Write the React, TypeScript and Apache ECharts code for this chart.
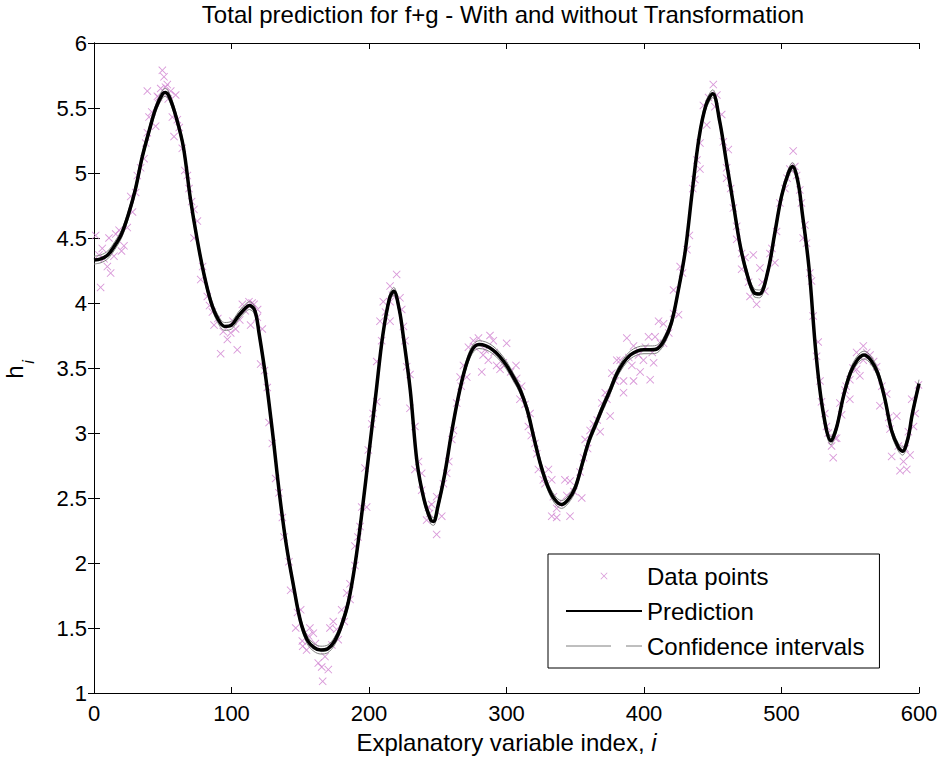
import React, { useEffect, useRef } from "react";
import * as echarts from "echarts";

const titleText = "Total prediction for f+g - With and without Transformation";
const xAxisTicks = [0, 100, 200, 300, 400, 500, 600];
const yAxisTicks = [1, 1.5, 2, 2.5, 3, 3.5, 4, 4.5, 5, 5.5, 6];

const predX = [
  0, 5, 10, 15, 20, 25, 30, 35, 40, 45,
  50, 52, 55, 60, 65, 70, 75, 80, 85, 90,
  95, 100, 105, 110, 113, 117, 120, 125, 130, 135,
  140, 145, 150, 155, 160, 165, 170, 175, 180, 185,
  190, 195, 200, 205, 210, 215, 218, 222, 225, 230,
  235, 240, 245, 247, 250, 255, 260, 265, 270, 275,
  280, 285, 290, 295, 300, 305, 310, 315, 320, 325,
  330, 335, 340, 345, 350, 355, 360, 365, 370, 375,
  380, 385, 390, 395, 400, 405, 410, 415, 420, 425,
  430, 435, 440, 445, 450, 455, 460, 465, 470, 475,
  480, 484, 490, 495, 500, 505, 508, 512, 515, 520,
  525, 530, 536, 540, 545, 550, 555, 560, 565, 570,
  575, 580, 585, 588, 592, 595, 600,
];

const predY = [
  4.33, 4.34, 4.37, 4.44, 4.53, 4.68, 4.87, 5.12, 5.32, 5.5,
  5.61, 5.62, 5.58, 5.42, 5.2, 4.81, 4.49, 4.22, 4.01, 3.88,
  3.82, 3.83, 3.9, 3.96, 3.98, 3.94, 3.77, 3.42, 2.99, 2.52,
  2.13, 1.83, 1.56, 1.41, 1.35, 1.33, 1.34, 1.4, 1.52, 1.7,
  2.0, 2.4, 2.85, 3.3, 3.75, 4.04, 4.09, 3.95, 3.74, 3.33,
  2.77, 2.49, 2.33, 2.32, 2.43, 2.68, 3.0, 3.28, 3.5, 3.64,
  3.68, 3.67, 3.64, 3.59, 3.52, 3.43, 3.33, 3.18, 2.96, 2.75,
  2.59, 2.49, 2.45, 2.49, 2.58, 2.76, 2.94, 3.07, 3.2, 3.32,
  3.45, 3.54, 3.6, 3.63, 3.64, 3.64, 3.65, 3.72, 3.85, 4.1,
  4.4, 4.85, 5.27, 5.52, 5.61, 5.4, 5.08, 4.76, 4.44, 4.22,
  4.08, 4.07, 4.24, 4.53, 4.82, 5.0, 5.05, 4.93, 4.7, 4.27,
  3.62, 3.18, 2.94, 3.04, 3.28, 3.46, 3.56, 3.6, 3.56, 3.46,
  3.27, 3.02, 2.89, 2.86, 2.96, 3.14, 3.38,
];

const ciUpper = [
  4.36, 4.37, 4.4, 4.47, 4.56, 4.71, 4.9, 5.15, 5.35, 5.53,
  5.64, 5.65, 5.61, 5.45, 5.23, 4.84, 4.52, 4.25, 4.04, 3.91,
  3.85, 3.86, 3.93, 3.99, 4.01, 3.97, 3.8, 3.45, 3.02, 2.55,
  2.16, 1.86, 1.59, 1.44, 1.38, 1.36, 1.37, 1.43, 1.55, 1.73,
  2.03, 2.43, 2.88, 3.33, 3.78, 4.07, 4.12, 3.98, 3.77, 3.36,
  2.8, 2.52, 2.36, 2.35, 2.46, 2.71, 3.03, 3.31, 3.53, 3.67,
  3.71, 3.7, 3.67, 3.62, 3.55, 3.46, 3.36, 3.21, 2.99, 2.78,
  2.62, 2.52, 2.48, 2.52, 2.61, 2.79, 2.97, 3.1, 3.23, 3.35,
  3.48, 3.57, 3.63, 3.66, 3.67, 3.67, 3.68, 3.75, 3.88, 4.13,
  4.43, 4.88, 5.3, 5.55, 5.64, 5.43, 5.11, 4.79, 4.47, 4.25,
  4.11, 4.1, 4.27, 4.56, 4.85, 5.03, 5.08, 4.96, 4.73, 4.3,
  3.65, 3.21, 2.97, 3.07, 3.31, 3.49, 3.59, 3.63, 3.59, 3.49,
  3.3, 3.05, 2.92, 2.89, 2.99, 3.17, 3.41,
];

const ciLower = [
  4.3, 4.31, 4.34, 4.41, 4.5, 4.65, 4.84, 5.09, 5.29, 5.47,
  5.58, 5.59, 5.55, 5.39, 5.17, 4.78, 4.46, 4.19, 3.98, 3.85,
  3.79, 3.8, 3.87, 3.93, 3.95, 3.91, 3.74, 3.39, 2.96, 2.49,
  2.1, 1.8, 1.53, 1.38, 1.32, 1.3, 1.31, 1.37, 1.49, 1.67,
  1.97, 2.37, 2.82, 3.27, 3.72, 4.01, 4.06, 3.92, 3.71, 3.3,
  2.74, 2.46, 2.3, 2.29, 2.4, 2.65, 2.97, 3.25, 3.47, 3.61,
  3.65, 3.64, 3.61, 3.56, 3.49, 3.4, 3.3, 3.15, 2.93, 2.72,
  2.56, 2.46, 2.42, 2.46, 2.55, 2.73, 2.91, 3.04, 3.17, 3.29,
  3.42, 3.51, 3.57, 3.6, 3.61, 3.61, 3.62, 3.69, 3.82, 4.07,
  4.37, 4.82, 5.24, 5.49, 5.58, 5.37, 5.05, 4.73, 4.41, 4.19,
  4.05, 4.04, 4.21, 4.5, 4.79, 4.97, 5.02, 4.9, 4.67, 4.24,
  3.59, 3.15, 2.91, 3.01, 3.25, 3.43, 3.53, 3.57, 3.53, 3.43,
  3.24, 2.99, 2.86, 2.83, 2.93, 3.11, 3.35,
];

const dataX = [
  1.2, 3.6, 4.8, 7.3, 9.7, 10.9, 12.1, 14.5, 15.8, 18.2,
  21.8, 24.2, 26.7, 30.3, 31.5, 33.9, 36.4, 37.6, 38.8, 38.8,
  40.0, 44.8, 46.1, 48.5, 49.7, 50.9, 53.3, 55.8, 57.0, 58.2,
  59.4, 60.6, 64.2, 67.9, 69.1, 72.7, 72.7, 75.2, 77.6, 82.4,
  86.1, 87.3, 92.1, 97.0, 99.4, 103.0, 104.2, 107.9, 112.7, 113.9,
  116.4, 118.8, 121.2, 122.4, 126.0, 127.3, 129.7, 132.1, 134.5, 138.2,
  141.8, 143.0, 146.7, 150.3, 151.5, 151.8, 154.6, 157.0, 159.5, 163.1,
  165.6, 166.3, 168.0, 170.4, 171.6, 174.0, 176.4, 177.6, 180.1, 183.8,
  186.2, 186.2, 189.8, 189.8, 193.5, 194.7, 197.1, 198.3, 199.5, 202.0,
  205.6, 205.6, 208.0, 209.2, 210.4, 215.3, 215.3, 215.3, 220.1, 222.5,
  223.8, 226.2, 227.4, 229.8, 229.8, 233.4, 233.4, 238.3, 238.3, 241.9,
  243.2, 245.6, 249.2, 249.2, 252.9, 254.1, 256.5, 260.2, 261.4, 263.8,
  266.3, 268.7, 271.1, 272.3, 275.9, 279.6, 282.0, 284.4, 286.8, 288.0,
  290.4, 292.8, 295.3, 297.7, 298.5, 300.1, 306.9, 307.4, 309.8, 311.0,
  313.5, 315.9, 317.1, 320.7, 322.0, 323.2, 326.8, 330.5, 332.9, 332.9,
  334.1, 336.5, 336.5, 342.5, 343.8, 346.2, 346.2, 353.5, 354.7, 356.0,
  357.2, 360.8, 363.2, 368.1, 369.3, 371.8, 375.4, 376.6, 380.2, 382.7,
  385.1, 385.1, 387.5, 391.2, 392.4, 392.4, 397.2, 399.6, 403.3, 404.5,
  407.0, 408.1, 410.6, 414.2, 414.2, 421.5, 421.5, 425.1, 426.3, 431.2,
  433.0, 435.5, 437.0, 438.5, 440.7, 440.7, 443.2, 445.6, 450.4, 451.6,
  456.5, 457.7, 460.1, 460.1, 461.3, 465.0, 467.4, 467.4, 471.0, 471.0,
  473.5, 477.1, 479.5, 481.9, 484.3, 487.9, 491.6, 495.2, 496.4, 498.8,
  502.5, 506.1, 508.5, 509.7, 513.3, 514.5, 515.8, 518.2, 520.6, 521.8,
  523.0, 525.5, 526.7, 529.1, 531.5, 532.7, 536.4, 537.6, 540.1, 542.5,
  543.7, 546.1, 549.7, 549.7, 554.6, 554.6, 557.0, 559.5, 559.5, 564.4,
  569.2, 571.6, 576.5, 578.9, 580.1, 583.8, 586.2, 588.7, 591.1, 592.3,
  593.5, 594.7, 597.2, 599.6,
  6, 20, 28, 42, 47, 52, 54, 62, 66, 71,
  79, 84, 90, 94, 101, 106, 110, 115, 119, 124,
  137, 148, 156, 161, 173, 182, 192, 203, 212, 217,
  225, 236, 244, 258, 267, 277, 283, 291, 303, 318,
  328, 338, 349, 359, 366, 373, 379, 389, 396, 401,
  406, 412, 418, 428, 447, 453, 463, 476, 486, 493,
  504, 511, 517, 528, 534, 539, 547, 552, 562, 567,
  573, 578, 585, 590, 596,
];

const dataY = [
  4.52, 4.37, 4.12, 4.34, 4.28, 4.5, 4.23, 4.36, 4.53, 4.56,
  4.44, 4.58, 4.82, 4.85, 4.98, 5.04, 5.11, 5.23, 5.31, 5.63,
  5.43, 5.36, 5.59, 5.65, 5.79, 5.74, 5.68, 5.63, 5.43, 5.28,
  5.6, 5.41, 5.19, 4.98, 4.88, 4.72, 4.5, 4.63, 4.18, 4.05,
  3.93, 3.83, 3.61, 3.72, 3.77, 3.8, 3.64, 3.99, 4.01, 3.83,
  3.99, 3.89, 3.53, 3.8, 3.35, 3.08, 2.92, 2.65, 2.54, 2.2,
  2.01, 1.79, 1.5, 1.64, 1.4, 1.36, 1.33, 1.5, 1.46, 1.23,
  1.2, 1.09, 1.28, 1.18, 1.5, 1.55, 1.49, 1.41, 1.64, 1.77,
  1.72, 1.84, 1.98, 2.13, 2.28, 2.43, 2.73, 2.43, 2.87, 3.07,
  3.24, 3.55, 3.86, 3.71, 4.01, 4.01, 3.86, 4.13, 4.22, 4.04,
  3.95, 3.71, 3.51, 3.45, 3.19, 3.05, 2.72, 2.69, 2.56, 2.33,
  2.43, 2.45, 2.22, 2.51, 2.36, 2.61, 2.69, 2.95, 3.02, 3.23,
  3.43, 3.52, 3.43, 3.66, 3.71, 3.73, 3.47, 3.64, 3.56, 3.75,
  3.71, 3.52, 3.49, 3.54, 3.52, 3.69, 3.52, 3.42, 3.26, 3.36,
  3.22, 3.05, 3.15, 2.92, 2.84, 2.72, 2.64, 2.72, 2.64, 2.36,
  2.51, 2.42, 2.35, 2.64, 2.52, 2.63, 2.36, 2.7, 2.5, 2.81,
  2.95, 3.02, 3.07, 3.01, 3.23, 3.31, 3.13, 3.46, 3.56, 3.56,
  3.31, 3.4, 3.73, 3.52, 3.67, 3.4, 3.47, 3.56, 3.74, 3.41,
  3.54, 3.74, 3.86, 3.69, 3.84, 3.92, 4.1, 3.91, 4.28, 4.41,
  4.52, 4.88, 4.95, 5.1, 5.23, 5.03, 5.52, 5.37, 5.68, 5.51,
  5.45, 5.24, 5.04, 4.96, 5.18, 4.73, 4.59, 4.49, 4.38, 4.26,
  4.35, 4.05, 4.37, 3.99, 4.27, 4.09, 4.38, 4.31, 4.55, 4.77,
  4.88, 5.03, 5.17, 5.05, 4.87, 4.77, 4.5, 4.46, 4.23, 4.17,
  3.9, 3.59, 3.7, 3.24, 3.15, 3.05, 2.9, 2.81, 2.96, 3.23,
  3.14, 3.33, 3.26, 3.41, 3.62, 3.49, 3.44, 3.67, 3.56, 3.6,
  3.51, 3.21, 3.3, 3.03, 2.82, 3.13, 2.71, 2.78, 2.72, 3.01,
  2.83, 3.26, 3.15, 3.37,
  4.42, 4.4, 4.7, 5.47, 5.58, 5.66, 5.57, 5.35, 5.02, 4.78,
  4.28, 3.98, 3.88, 3.78, 3.86, 3.87, 3.94, 4.0, 3.95, 3.48,
  2.35, 1.62, 1.44, 1.38, 1.37, 1.55, 2.2, 3.15, 3.93, 4.06,
  3.82, 2.78, 2.38, 2.78, 3.36, 3.66, 3.6, 3.62, 3.47, 2.98,
  2.61, 2.46, 2.55, 2.88, 3.1, 3.26, 3.4, 3.58, 3.6, 3.66,
  3.62, 3.69, 3.77, 4.23, 5.58, 5.6, 4.88, 4.16, 4.16, 4.42,
  4.96, 4.98, 4.6, 3.4, 3.0, 2.96, 3.36, 3.5, 3.62, 3.55,
  3.36, 3.12, 2.9, 2.88, 3.05,
];

const FONT = "'Liberation Sans', Arial, Helvetica, sans-serif";
const CROSS =
  "path://M0,0.8L0.8,0L5,4.2L9.2,0L10,0.8L5.8,5L10,9.2L9.2,10L5,5.8L0.8,10L0,9.2L4.2,5Z";

function pairs(xs: number[], ys: number[]) {
  return xs.map((x, i) => [x, ys[i]]);
}

export default function App() {
  const ref = useRef<HTMLDivElement>(null);

  useEffect(() => {
    if (!ref.current) return;
    const chart = echarts.init(ref.current, null, { renderer: "svg" });

    const axisCommon = {
      axisLine: { show: true, lineStyle: { color: "#000", width: 1 } },
      axisTick: { show: true, inside: true, length: 6, lineStyle: { color: "#000", width: 1 } },
      splitLine: { show: false },
    };

    chart.setOption({
      animation: false,
      backgroundColor: "#fff",
      title: {
        text: titleText,
        left: 503,
        textAlign: "center",
        top: 2,
        padding: 0,
        textStyle: { fontFamily: FONT, fontSize: 24, fontWeight: "normal", color: "#000" },
      },
      grid: { left: 94, top: 43, right: 23, bottom: 67, containLabel: false },
      xAxis: [
        {
          type: "value",
          min: xAxisTicks[0],
          max: xAxisTicks[xAxisTicks.length - 1],
          interval: 100,
          position: "bottom",
          ...axisCommon,
          axisLabel: { fontFamily: FONT, fontSize: 22, color: "#000", margin: 9 },
          name: "Explanatory variable index, {it|i}",
          nameLocation: "middle",
          nameGap: 37,
          nameTextStyle: {
            fontFamily: FONT,
            fontSize: 24,
            color: "#000",
            rich: { it: { fontFamily: FONT, fontSize: 24, fontStyle: "italic", color: "#000" } },
          },
        },
        {
          type: "value",
          min: xAxisTicks[0],
          max: xAxisTicks[xAxisTicks.length - 1],
          interval: 100,
          position: "top",
          ...axisCommon,
          axisLabel: { show: false },
        },
      ],
      yAxis: [
        {
          type: "value",
          min: yAxisTicks[0],
          max: yAxisTicks[yAxisTicks.length - 1],
          interval: 0.5,
          position: "left",
          ...axisCommon,
          axisLabel: { fontFamily: FONT, fontSize: 22, color: "#000", margin: 7 },
        },
        {
          type: "value",
          min: yAxisTicks[0],
          max: yAxisTicks[yAxisTicks.length - 1],
          interval: 0.5,
          position: "right",
          ...axisCommon,
          axisLabel: { show: false },
        },
      ],
      graphic: [
        {
          type: "text",
          x: 14,
          y: 372,
          rotation: Math.PI / 2,
          style: {
            text: "h",
            font: `24px ${FONT}`,
            fill: "#000",
            align: "center",
            verticalAlign: "middle",
          },
        },
        {
          type: "text",
          x: 28,
          y: 362,
          rotation: Math.PI / 2,
          style: {
            text: "i",
            font: `italic 16px ${FONT}`,
            fill: "#000",
            align: "center",
            verticalAlign: "middle",
          },
        },
      ],
      legend: {
        orient: "vertical",
        left: 548,
        top: 554,
        padding: [10, 15, 10, 17],
        itemWidth: 76,
        itemHeight: 7,
        itemGap: 11,
        borderColor: "#000",
        borderWidth: 1,
        backgroundColor: "#fff",
        borderRadius: 0,
        textStyle: { fontFamily: FONT, fontSize: 24, color: "#000", lineHeight: 24 },
        data: [
          { name: "Data points", icon: CROSS },
          { name: "Prediction", itemStyle: { opacity: 0 } },
          {
            name: "Confidence intervals",
            itemStyle: { opacity: 0 },
            lineStyle: { color: "#7f7f7f", width: 1, type: [45, 15] },
          },
        ],
      },
      series: [
        {
          name: "Data points",
          type: "scatter",
          data: pairs(dataX, dataY),
          symbol: CROSS,
          symbolSize: 8,
          itemStyle: { color: "#d07fd0" },
          z: 1,
        },
        {
          name: "Confidence intervals",
          type: "line",
          data: pairs(predX, ciUpper),
          symbol: "none",
          smooth: 0.35,
          lineStyle: { color: "#7f7f7f", width: 1 },
          itemStyle: { color: "#7f7f7f" },
          z: 2,
        },
        {
          name: "Confidence intervals",
          type: "line",
          data: pairs(predX, ciLower),
          symbol: "none",
          smooth: 0.35,
          lineStyle: { color: "#7f7f7f", width: 1 },
          itemStyle: { color: "#7f7f7f" },
          z: 2,
        },
        {
          name: "Prediction",
          type: "line",
          data: pairs(predX, predY),
          symbol: "none",
          smooth: 0.35,
          lineStyle: { color: "#000", width: 3.5 },
          itemStyle: { color: "#000" },
          z: 3,
        },
      ],
    });

    return () => chart.dispose();
  }, []);

  return (
    <div
      ref={ref}
      style={{ position: "absolute", left: 0, top: 0, width: 942, height: 760, background: "#fff" }}
    />
  );
}
